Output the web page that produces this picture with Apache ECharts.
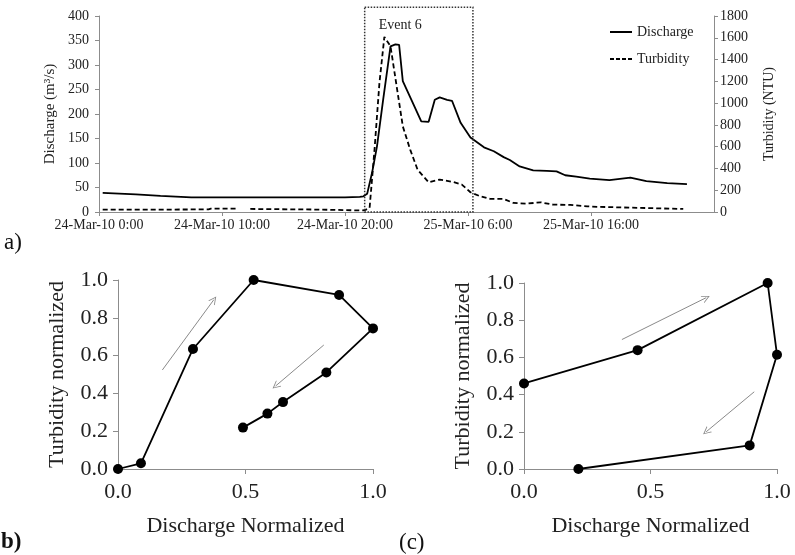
<!DOCTYPE html>
<html>
<head>
<meta charset="utf-8">
<script src="https://cdn.jsdelivr.net/npm/echarts@6/dist/echarts.min.js"></script>
<style>html,body{margin:0;padding:0;background:#fff}#c{width:795px;height:555px}</style>
</head>
<body>
<div id="c"></div>
<script>
// ---- Panel a: time series (hours since 24-Mar-10 0:00) ----
var dischargeHours = [0.3, 3, 5, 7.5, 10, 15, 20, 21.2, 21.5, 21.8, 22.2, 22.6, 23.1, 23.7, 24.1, 24.4, 24.7, 25.4, 26.2, 26.8, 27.3, 27.7, 28.3, 28.7, 29.4, 30.2, 31.3, 32.1, 32.9, 33.4, 34.2, 35.3, 36.4, 37.2, 37.9, 38.8, 39.9, 41.5, 43.2, 44.5, 46.2, 47.8];
var dischargeValues = [39, 36, 33, 30, 30, 30, 30, 31, 32, 37, 80, 134, 229, 338, 342, 341, 267, 229, 185, 184, 229, 234, 229, 227, 182, 152, 132, 124, 112, 106, 93, 85, 84, 83, 75, 72, 68, 65, 70, 63, 59, 57];
var turbidityHours = [0.3, 5, 8.9, 9.1, 11.3, 11.8, 12.3, 18, 21, 21.6, 22.0, 22.4, 22.8, 23.2, 23.7, 24.2, 24.7, 25.3, 25.9, 26.8, 27.7, 28.8, 29.5, 30.2, 31.0, 31.8, 32.9, 33.7, 34.8, 35.9, 36.9, 38.3, 39.7, 40.7, 47.5];
var turbidityValues = [22, 22, 24, 31, 31, null, 28, 22, 15, 16, 38, 573, 1186, 1608, 1522, 1154, 787, 573, 389, 273, 298, 275, 252, 181, 144, 120, 120, 83, 77, 89, 68, 65, 52, 47, 28];
var timeTickLabels = ['24-Mar-10 0:00', '24-Mar-10 10:00', '24-Mar-10 20:00', '25-Mar-10 6:00', '25-Mar-10 16:00', ''];
var eventStart = 21.6, eventEnd = 30.4, eventTop = 418;

// ---- Panel b: hysteresis loop ----
var bDischarge = [0.0, 0.09, 0.294, 0.532, 0.867, 1.0, 0.817, 0.647, 0.586, 0.49];
var bTurbidity = [0.0, 0.03, 0.635, 1.0, 0.921, 0.744, 0.511, 0.354, 0.293, 0.219];
var bArrows = [[[0.174, 0.524], [0.376, 0.896]], [[0.807, 0.656], [0.618, 0.439]]];

// ---- Panel c: hysteresis loop ----
var cDischarge = [0.0, 0.449, 0.963, 1.0, 0.892, 0.215];
var cTurbidity = [0.46, 0.639, 1.0, 0.614, 0.127, 0.0];
var cArrows = [[[0.387, 0.696], [0.72, 0.921]], [[0.91, 0.415], [0.72, 0.20]]];

var SERIF = "'Liberation Serif', 'Times New Roman', serif";
var AX = '#8c8c8c';
var TXT = '#222';

function zip(a, b) { return a.map(function (v, i) { return [v, b[i]]; }); }
function pairs(h, v) { return h.map(function (x, i) { return [x, v[i]]; }); }

var arrowPath = 'path://M5,0 L10,10 L8.8,10 L5,2.4 L1.2,10 L0,10 Z';
var solidIcon = 'path://M0,0h22v2h-22z';
var dashIcon = 'path://M0,0h4v2h-4z M6,0h4v2h-4z M12,0h4v2h-4z M18,0h4v2h-4z';

var chart = echarts.init(document.getElementById('c'), null, { renderer: 'canvas' });

function normAxisX(idx) {
  return {
    gridIndex: idx, type: 'value', min: 0, max: 1, interval: 0.5,
    name: 'Discharge Normalized', nameLocation: 'middle', nameGap: 46,
    nameTextStyle: { fontFamily: SERIF, fontSize: 22, color: TXT },
    axisLine: { show: true, lineStyle: { color: AX, width: 1 } },
    axisTick: { show: true, length: 5, lineStyle: { color: AX } },
    splitLine: { show: false },
    axisLabel: { fontFamily: SERIF, fontSize: 22, color: TXT, margin: 12, formatter: function (v) { return v.toFixed(1); } }
  };
}
function normAxisY(idx) {
  return {
    gridIndex: idx, type: 'value', min: 0, max: 1, interval: 0.2,
    name: 'Turbidity normalized', nameLocation: 'middle', nameGap: 50,
    nameTextStyle: { fontFamily: SERIF, fontSize: 22, color: TXT },
    axisLine: { show: true, lineStyle: { color: AX, width: 1 } },
    axisTick: { show: true, length: 5, lineStyle: { color: AX } },
    splitLine: { show: false },
    axisLabel: { fontFamily: SERIF, fontSize: 22, color: TXT, margin: 10, formatter: function (v) { return v.toFixed(1); } }
  };
}
function loopSeries(xi, yi, data) {
  return {
    type: 'line', xAxisIndex: xi, yAxisIndex: yi, data: data, clip: false,
    symbol: 'circle', symbolSize: 10, showSymbol: true,
    itemStyle: { color: '#000' }, lineStyle: { color: '#000', width: 1.8 },
    silent: true, animation: false, z: 3
  };
}
function arrowSeries(xi, yi, arr) {
  return {
    type: 'lines', coordinateSystem: 'cartesian2d', xAxisIndex: xi, yAxisIndex: yi,
    data: arr.map(function (c) { return { coords: c }; }),
    symbol: ['none', arrowPath], symbolSize: [7, 8],
    lineStyle: { color: '#8a8a8a', width: 1, opacity: 1 },
    silent: true, animation: false, z: 2
  };
}

var option = {
  backgroundColor: '#fff',
  animation: false,
  grid: [
    { left: 99, top: 16, width: 615, height: 196 },
    { left: 118, top: 280, width: 255, height: 189 },
    { left: 524, top: 283, width: 253, height: 186 }
  ],
  legend: {
    data: [{ name: 'Discharge', icon: solidIcon }, { name: 'Turbidity', icon: dashIcon }],
    orient: 'vertical', left: 605, top: 20,
    itemWidth: 22, itemHeight: 2, itemGap: 13,
    textStyle: { fontFamily: SERIF, fontSize: 14, color: TXT },
    itemStyle: { color: '#000' },
    selectedMode: false
  },
  xAxis: [
    {
      gridIndex: 0, type: 'value', min: 0, max: 50, interval: 10,
      axisLine: { show: true, onZero: false, lineStyle: { color: AX } },
      axisTick: { show: true, length: 4, lineStyle: { color: AX } },
      splitLine: { show: false },
      axisLabel: { fontFamily: SERIF, fontSize: 14, color: TXT, margin: 6, showMaxLabel: false,
        formatter: function (v) { return timeTickLabels[Math.round(v / 10)]; } }
    },
    normAxisX(1), normAxisX(2)
  ],
  yAxis: [
    {
      gridIndex: 0, type: 'value', min: 0, max: 400, interval: 50, position: 'left',
      name: 'Discharge (m³/s)', nameLocation: 'middle', nameGap: 37,
      nameTextStyle: { fontFamily: SERIF, fontSize: 15, color: TXT },
      axisLine: { show: true, lineStyle: { color: AX } },
      axisTick: { show: true, length: 4, lineStyle: { color: AX } },
      splitLine: { show: false },
      axisLabel: { fontFamily: SERIF, fontSize: 14, color: TXT, margin: 10, formatter: function (v) { return String(v); } }
    },
    {
      gridIndex: 0, type: 'value', min: 0, max: 1800, interval: 200, position: 'right',
      name: 'Turbidity (NTU)', nameLocation: 'middle', nameGap: 48, nameRotate: 90,
      nameTextStyle: { fontFamily: SERIF, fontSize: 14, color: TXT },
      axisLine: { show: true, lineStyle: { color: AX } },
      axisTick: { show: true, length: 4, lineStyle: { color: AX } },
      splitLine: { show: false },
      axisLabel: { fontFamily: SERIF, fontSize: 14, color: TXT, margin: 6, formatter: function (v) { return String(v); } }
    },
    normAxisY(1), normAxisY(2)
  ],
  series: [
    {
      name: 'Discharge', type: 'line', xAxisIndex: 0, yAxisIndex: 0,
      data: pairs(dischargeHours, dischargeValues), symbol: 'none', showSymbol: false,
      itemStyle: { color: '#000' }, lineStyle: { color: '#000', width: 1.8 }, z: 3
    },
    {
      name: 'Turbidity', type: 'line', xAxisIndex: 0, yAxisIndex: 1,
      data: pairs(turbidityHours, turbidityValues), symbol: 'none', showSymbol: false, connectNulls: false,
      itemStyle: { color: '#000' }, lineStyle: { color: '#000', width: 1.8, type: [5, 3] }, z: 3
    },
    loopSeries(1, 2, zip(bDischarge, bTurbidity)),
    arrowSeries(1, 2, bArrows),
    loopSeries(2, 3, zip(cDischarge, cTurbidity)),
    arrowSeries(2, 3, cArrows)
  ]
};
chart.setOption(option);

var p1 = chart.convertToPixel({ xAxisIndex: 0, yAxisIndex: 0 }, [eventStart, eventTop]);
var p2 = chart.convertToPixel({ xAxisIndex: 0, yAxisIndex: 0 }, [eventEnd, 0]);
chart.setOption({
  graphic: [
    { type: 'rect', shape: { x: p1[0], y: p1[1], width: p2[0] - p1[0], height: p2[1] - p1[1] },
      style: { fill: 'none', stroke: '#333', lineWidth: 1.5, lineDash: [1.5, 1.5] }, z: 10, silent: true },
    { type: 'text', x: p1[0] + 14, y: p1[1] + 11,
      style: { text: 'Event 6', fontFamily: SERIF, fontSize: 14, fill: TXT }, z: 10, silent: true },
    { type: 'text', left: 4, top: 231, style: { text: 'a)', fontFamily: SERIF, fontSize: 23, fill: '#111' } },
    { type: 'text', left: 1, top: 531, style: { text: 'b)', fontFamily: SERIF, fontSize: 23, fontWeight: 'bold', fill: '#111' } },
    { type: 'text', left: 399, top: 531, style: { text: '(c)', fontFamily: SERIF, fontSize: 23, fill: '#111' } }
  ]
});
</script>
</body>
</html>
